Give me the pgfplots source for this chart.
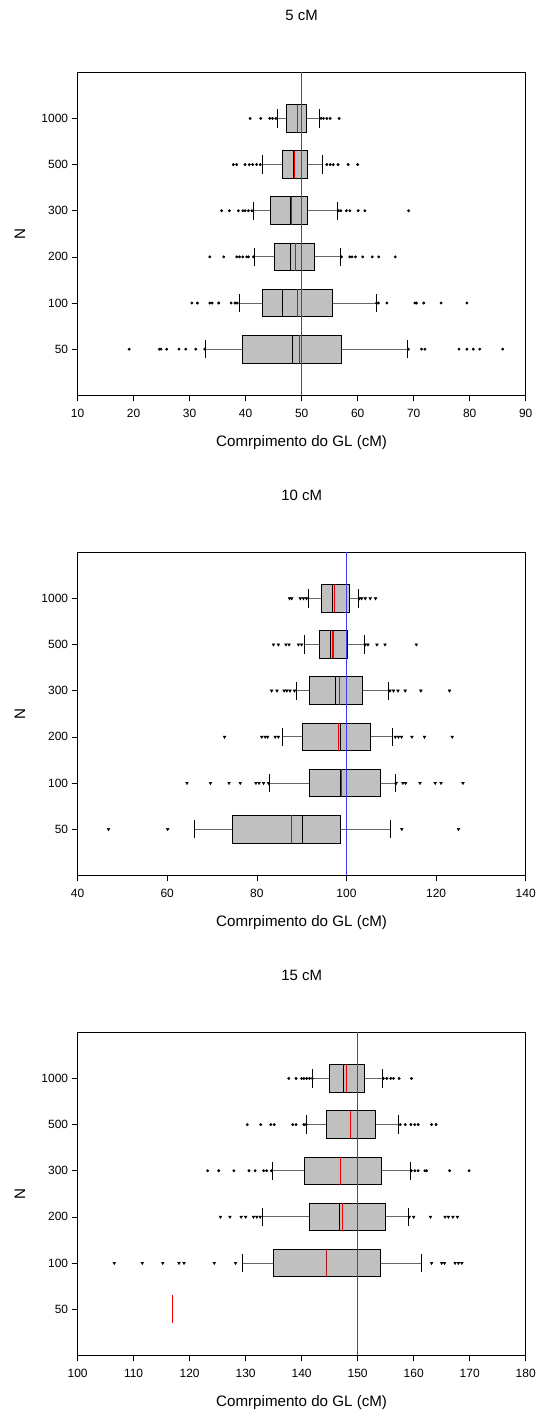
\documentclass[border=0pt]{standalone}
\usepackage{pgfplots}
\pgfplotsset{compat=1.18}
\usepgfplotslibrary{statistics}
\usepackage{fontspec}
\setmainfont{Liberation Sans}
\definecolor{boxgray}{RGB}{192,192,192}
\definecolor{trueblue}{RGB}{60,60,255}
\definecolor{meanred}{RGB}{245,0,0}
\definecolor{darkmean}{RGB}{170,20,20}
\tikzset{whiskline/.style={draw=black!60, line width=1pt},
         capline/.style={draw=black, line width=0.8pt}}
\pgfplotsset{
  boxplot/draw/lower whisker/.code={%
    \draw[whiskline] (boxplot box cs:\pgfplotsboxplotvalue{lower quartile},0.5) -- (boxplot box cs:\pgfplotsboxplotvalue{lower whisker},0.5);
    \draw[capline] (boxplot whisker cs:\pgfplotsboxplotvalue{lower whisker},0) -- (boxplot whisker cs:\pgfplotsboxplotvalue{lower whisker},1);
  },
  boxplot/draw/upper whisker/.code={%
    \draw[whiskline] (boxplot box cs:\pgfplotsboxplotvalue{upper quartile},0.5) -- (boxplot box cs:\pgfplotsboxplotvalue{upper whisker},0.5);
    \draw[capline] (boxplot whisker cs:\pgfplotsboxplotvalue{upper whisker},0) -- (boxplot whisker cs:\pgfplotsboxplotvalue{upper whisker},1);
  },
  bx/.style={black, mark=*, mark size=1.25pt, mark options={fill=black},
    boxplot/draw direction=x, boxplot/box extend=0.6, boxplot/whisker extend=0.4,
    boxplot/every box/.style={fill=boxgray, draw=black, line width=0.8pt},
    boxplot/every median/.style={draw=black, line width=0.9pt}},
  bxt/.style={bx, mark=triangle*, mark size=1.6pt, mark options={rotate=180, fill=black}},
  mn/.style={draw=meanred, line width=1.1pt, mark=none},
  tl/.style={draw=trueblue, line width=1pt, mark=none},
  frame/.style={scale only axis, width=448.1bp, height=323bp, ymin=0, ymax=7, clip=false},
  ov/.style={frame, hide axis},
  myax/.style={frame,
    ytick={1,2,3,4,5,6}, yticklabels={50,100,200,300,500,1000},
    xtick pos=bottom, ytick pos=left, tick align=outside,
    major tick length=6bp, tick style={black, line width=0.6pt},
    axis line style={black, line width=0.8pt},
    /pgf/number format/assume math mode=true,
    ticklabel style={font=\fontsize{12}{14}\selectfont},
    xticklabel style={yshift=-4bp},
    label style={font=\fontsize{15.2}{17}\selectfont},
    title style={font=\fontsize{15}{17}\selectfont, at={(axis description cs:0.5,1)}, anchor=center, yshift=51bp},
    xlabel={Comrpimento do GL (cM)},
    xlabel style={at={(axis description cs:0.5,0)}, anchor=center, yshift=-47bp},
    ylabel={N},
    ylabel style={at={(axis description cs:-0.1285,0.5)}, anchor=center},
  },
}
\begin{document}
\begin{tikzpicture}
\path[use as bounding box] (0,0) rectangle (536bp,-1412bp);

% ---------------- 5 cM ----------------
\begin{axis}[myax, at={(77.6bp,-72.3bp)}, anchor=north west,
  title={5 cM}, xmin=10, xmax=90, xtick={10,20,...,90}]
\addplot[bx, boxplot prepared={draw position=6, lower whisker=45.7, lower quartile=47.2, median=49.2, upper quartile=50.77, upper whisker=53.2}]
  table[row sep=\\, y index=0] {v\\ 40.8\\ 42.7\\ 44.3\\ 44.8\\ 45.4\\ 53.45\\ 53.9\\ 54.5\\ 55.1\\ 56.7\\};
\addplot[bx, boxplot prepared={draw position=5, lower whisker=43.0, lower quartile=46.55, median=48.6, upper quartile=51.0, upper whisker=53.7}]
  table[row sep=\\, y index=0] {v\\ 37.8\\ 38.4\\ 39.9\\ 40.65\\ 41.25\\ 41.96\\ 42.6\\ 54.5\\ 55.1\\ 55.65\\ 56.5\\ 58.3\\ 60.0\\};
\addplot[bx, boxplot prepared={draw position=4, lower whisker=41.3, lower quartile=44.35, median=47.98, upper quartile=51.0, upper whisker=56.4}]
  table[row sep=\\, y index=0] {v\\ 35.7\\ 37.1\\ 38.7\\ 39.5\\ 39.9\\ 40.5\\ 41.1\\ 56.6\\ 57.0\\ 58.0\\ 58.6\\ 60.1\\ 61.3\\ 69.1\\};
\addplot[bx, boxplot prepared={draw position=3, lower whisker=41.6, lower quartile=45.1, median=48.0, upper quartile=52.26, upper whisker=57.0}]
  table[row sep=\\, y index=0] {v\\ 33.6\\ 36.1\\ 38.4\\ 38.9\\ 39.5\\ 40.2\\ 40.5\\ 41.4\\ 57.1\\ 58.6\\ 59.0\\ 59.6\\ 60.9\\ 62.6\\ 63.75\\ 66.7\\};
\addplot[bx, boxplot prepared={draw position=2, lower whisker=38.9, lower quartile=42.98, median=46.5, upper quartile=55.54, upper whisker=63.3}]
  table[row sep=\\, y index=0] {v\\ 30.4\\ 31.4\\ 33.6\\ 34.0\\ 35.2\\ 37.4\\ 38.1\\ 38.5\\ 63.4\\ 63.7\\ 65.2\\ 70.2\\ 70.5\\ 71.8\\ 74.9\\ 79.5\\};
\addplot[bx, boxplot prepared={draw position=1, lower whisker=32.86, lower quartile=39.46, median=48.3, upper quartile=57.08, upper whisker=68.9}]
  table[row sep=\\, y index=0] {v\\ 19.2\\ 24.6\\ 24.9\\ 25.9\\ 28.1\\ 29.3\\ 31.1\\ 32.7\\ 69.05\\ 71.4\\ 72.0\\ 78.1\\ 79.5\\ 80.65\\ 81.8\\ 85.9\\};
\end{axis}
\begin{axis}[ov, at={(77.6bp,-72.3bp)}, anchor=north west, xmin=10, xmax=90]
\addplot[mn] coordinates {(49.3,5.7) (49.3,6.3)};
\addplot[mn] coordinates {(48.7,4.7) (48.7,5.3)};
\addplot[mn] coordinates {(48.2,3.7) (48.2,4.3)};
\addplot[mn] coordinates {(48.9,2.7) (48.9,3.3)};
\addplot[mn] coordinates {(49.3,1.7) (49.3,2.3)};
\addplot[mn] coordinates {(49.6,0.7) (49.6,1.3)};
\addplot[tl] coordinates {(50,0) (50,7)};
\end{axis}

% ---------------- 10 cM ----------------
\begin{axis}[myax, at={(77.6bp,-552.3bp)}, anchor=north west,
  title={10 cM}, xmin=40, xmax=140, xtick={40,60,...,140}]
\addplot[bxt, boxplot prepared={draw position=6, lower whisker=91.6, lower quartile=94.4, median=96.95, upper quartile=100.6, upper whisker=102.75}]
  table[row sep=\\, y index=0] {v\\ 87.3\\ 87.8\\ 89.7\\ 90.4\\ 91.1\\ 102.9\\ 103.4\\ 104.2\\ 105.3\\ 106.5\\};
\addplot[bxt, boxplot prepared={draw position=5, lower whisker=90.7, lower quartile=93.97, median=96.5, upper quartile=100.2, upper whisker=103.9}]
  table[row sep=\\, y index=0] {v\\ 83.7\\ 84.8\\ 86.5\\ 87.2\\ 89.3\\ 90.0\\ 104.2\\ 104.8\\ 106.8\\ 108.6\\ 115.6\\};
\addplot[bxt, boxplot prepared={draw position=4, lower whisker=88.8, lower quartile=91.8, median=97.6, upper quartile=103.65, upper whisker=109.4}]
  table[row sep=\\, y index=0] {v\\ 83.3\\ 84.5\\ 86.1\\ 86.7\\ 87.4\\ 88.4\\ 109.7\\ 110.5\\ 111.5\\ 113.1\\ 116.6\\ 123.0\\};
\addplot[bxt, boxplot prepared={draw position=3, lower whisker=85.7, lower quartile=90.2, median=98.6, upper quartile=105.3, upper whisker=110.3}]
  table[row sep=\\, y index=0] {v\\ 72.8\\ 81.1\\ 81.85\\ 82.4\\ 84.1\\ 84.8\\ 110.9\\ 111.6\\ 112.3\\ 114.6\\ 117.4\\ 123.6\\};
\addplot[bxt, boxplot prepared={draw position=2, lower whisker=82.9, lower quartile=91.8, median=98.7, upper quartile=107.6, upper whisker=110.9}]
  table[row sep=\\, y index=0] {v\\ 64.4\\ 69.65\\ 73.8\\ 76.3\\ 79.8\\ 80.5\\ 81.5\\ 82.6\\ 111.1\\ 112.6\\ 113.2\\ 116.4\\ 119.8\\ 121.1\\ 126.0\\};
\addplot[bxt, boxplot prepared={draw position=1, lower whisker=66.1, lower quartile=74.56, median=90.2, upper quartile=98.66, upper whisker=109.8}]
  table[row sep=\\, y index=0] {v\\ 46.9\\ 60.1\\ 112.35\\ 125.0\\};
\end{axis}
\begin{axis}[ov, at={(77.6bp,-552.3bp)}, anchor=north west, xmin=40, xmax=140]
\addplot[mn] coordinates {(97.4,5.7) (97.4,6.3)};
\addplot[mn] coordinates {(97.0,4.7) (97.0,5.3)};
\addplot[mn] coordinates {(98.4,3.7) (98.4,4.3)};
\addplot[mn] coordinates {(98.2,2.7) (98.2,3.3)};
\addplot[mn] coordinates {(98.9,1.7) (98.9,2.3)};
\addplot[mn] coordinates {(87.65,0.7) (87.65,1.3)};
\addplot[tl] coordinates {(100,0) (100,7)};
\end{axis}

% ---------------- 15 cM ----------------
\begin{axis}[myax, at={(77.6bp,-1032.3bp)}, anchor=north west,
  title={15 cM}, xmin=100, xmax=180, xtick={100,110,...,180}]
\addplot[bx, boxplot prepared={draw position=6, lower whisker=142.0, lower quartile=144.94, median=147.44, upper quartile=151.13, upper whisker=154.4}]
  table[row sep=\\, y index=0] {v\\ 137.7\\ 139.0\\ 140.0\\ 140.4\\ 140.9\\ 141.4\\ 141.9\\ 154.6\\ 155.2\\ 155.9\\ 156.4\\ 157.4\\ 159.6\\};
\addplot[bx, boxplot prepared={draw position=5, lower whisker=140.9, lower quartile=144.35, median=148.75, upper quartile=153.2, upper whisker=157.3}]
  table[row sep=\\, y index=0] {v\\ 130.3\\ 132.7\\ 134.5\\ 135.1\\ 138.4\\ 139.0\\ 140.4\\ 140.8\\ 157.6\\ 158.5\\ 159.5\\ 160.2\\ 160.8\\ 163.2\\ 164.0\\};
\addplot[bx, boxplot prepared={draw position=4, lower whisker=134.8, lower quartile=140.5, median=146.85, upper quartile=154.2, upper whisker=159.5}]
  table[row sep=\\, y index=0] {v\\ 123.2\\ 125.2\\ 127.9\\ 130.6\\ 131.7\\ 133.2\\ 133.75\\ 134.6\\ 159.6\\ 160.2\\ 160.8\\ 162.0\\ 162.3\\ 166.4\\ 169.9\\};
\addplot[bxt, boxplot prepared={draw position=3, lower whisker=133.0, lower quartile=141.4, median=146.8, upper quartile=155.0, upper whisker=159.0}]
  table[row sep=\\, y index=0] {v\\ 125.5\\ 127.2\\ 129.2\\ 130.0\\ 131.4\\ 132.0\\ 132.6\\ 159.2\\ 160.0\\ 163.0\\ 165.6\\ 166.2\\ 167.0\\ 167.8\\};
\addplot[bxt, boxplot prepared={draw position=2, lower whisker=129.35, lower quartile=134.94, median=144.35, upper quartile=154.1, upper whisker=161.4}]
  table[row sep=\\, y index=0] {v\\ 106.55\\ 111.55\\ 115.2\\ 118.1\\ 119.0\\ 124.4\\ 128.2\\ 163.2\\ 165.0\\ 165.5\\ 167.4\\ 168.0\\ 168.6\\};
\end{axis}
\begin{axis}[ov, at={(77.6bp,-1032.3bp)}, anchor=north west, xmin=100, xmax=180]
\addplot[mn] coordinates {(148.04,5.7) (148.04,6.3)};
\addplot[mn] coordinates {(148.8,4.7) (148.8,5.3)};
\addplot[mn] coordinates {(146.9,3.7) (146.9,4.3)};
\addplot[mn] coordinates {(147.3,2.7) (147.3,3.3)};
\addplot[mn, draw=darkmean] coordinates {(144.4,1.7) (144.4,2.3)};
\addplot[mn] coordinates {(116.9,0.7) (116.9,1.3)};
\addplot[tl] coordinates {(150,0) (150,7)};
\end{axis}
\end{tikzpicture}
\end{document}
